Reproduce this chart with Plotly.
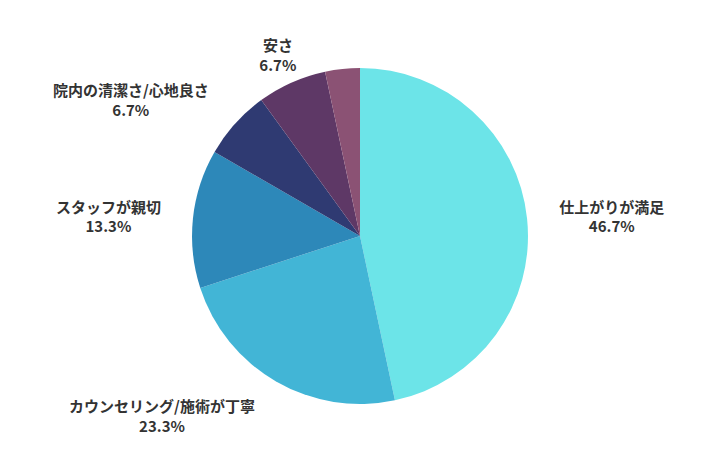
import plotly.graph_objects as go

# 回答数（30件中）
labels = ["仕上がりが満足", "カウンセリング/施術が丁寧", "スタッフが親切",
          "院内の清潔さ/心地良さ", "安さ", "その他"]
counts = [14, 7, 4, 2, 2, 1]
show_label = [True, True, True, True, True, False]

colors = ["#6ce4e8", "#42b5d6", "#2d88b9", "#2f3a72", "#5e3866", "#8b5274"]


def label_texts(keep):
    out = []
    for i, (lab, c, s) in enumerate(zip(labels, counts, show_label)):
        if s and keep(i):
            out.append("<b>%s<br>%.1f%%</b>" % (lab, c / sum(counts) * 100))
        else:
            out.append("")
    return out


def text_pie(texts, domain):
    # transparent pie that only carries the outside labels
    return go.Pie(
        labels=labels,
        values=counts,
        text=texts,
        textinfo="text",
        textposition="outside",
        sort=False,
        direction="clockwise",
        rotation=0,
        marker=dict(colors=["rgba(0,0,0,0)"] * len(labels), line=dict(width=0)),
        textfont=dict(family="Noto Sans CJK JP", size=15, color="#333333"),
        domain=domain,
        showlegend=False,
        hoverinfo="skip",
    )


# visible pie (no text)
pie = go.Pie(
    labels=labels,
    values=counts,
    textinfo="none",
    sort=False,
    direction="clockwise",
    rotation=0,
    marker=dict(colors=colors, line=dict(width=0)),
    domain=dict(x=[0.2556, 0.7222], y=[0.12, 0.8667]),
    showlegend=False,
    hoverinfo="label+percent",
)

cheap = labels.index("安さ")
main_labels = text_pie(label_texts(lambda i: i != cheap),
                       dict(x=[0.225, 0.753], y=[0.071, 0.916]))
# the "安さ" label sits a little further right in the reference
cheap_label = text_pie(label_texts(lambda i: i == cheap),
                       dict(x=[0.258, 0.786], y=[0.051, 0.896]))

fig = go.Figure(data=[main_labels, cheap_label, pie])
fig.update_layout(
    width=720,
    height=450,
    paper_bgcolor="white",
    plot_bgcolor="white",
    margin=dict(l=0, r=0, t=0, b=0),
)
fig.write_html("out.html")
